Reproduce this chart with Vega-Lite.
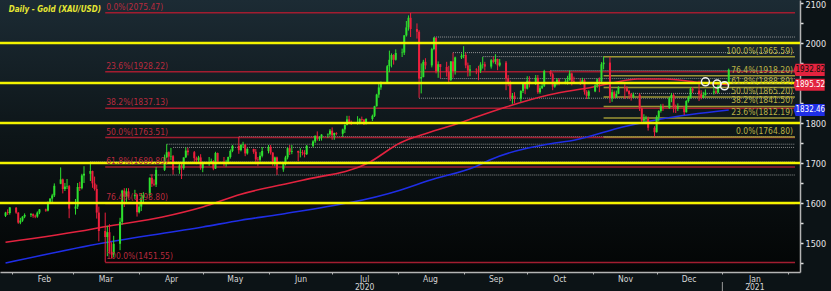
{
  "$schema": "https://vega.github.io/schema/vega-lite/v6.json",
  "width": 800,
  "height": 272,
  "autosize": {"type": "none"},
  "padding": {"left": 0, "top": 0, "right": 31, "bottom": 19},
  "background": "#0c1316",
  "resolve": {"axis": {"y": "independent"}},
  "config": {
    "view": {"stroke": null, "fill": {"gradient": "linear", "x1": 0, "y1": 0, "x2": 0, "y2": 1, "stops": [{"offset": 0, "color": "#1c2b34"}, {"offset": 0.5, "color": "#0d1518"}, {"offset": 1, "color": "#030505"}]}},
    "font": "Liberation Sans Narrow, DejaVu Sans Condensed, Liberation Sans, sans-serif"
  },
  "datasets": {
    "yl": [{"v": 1600}, {"v": 1700}, {"v": 1800}, {"v": 1900}, {"v": 2000}],
    "dots": [
      {"d": "2020-08-18", "v": 2015}, {"d": "2020-08-27", "v": 1976}, {"d": "2020-09-10", "v": 1966},
      {"d": "2020-10-12", "v": 1931}, {"d": "2020-08-21", "v": 1911}, {"d": "2020-11-18", "v": 1874},
      {"d": "2020-08-11", "v": 1862}, {"d": "2020-05-18", "v": 1766}, {"d": "2020-04-14", "v": 1747},
      {"d": "2020-04-17", "v": 1739}, {"d": "2020-03-09", "v": 1703}, {"d": "2020-04-06", "v": 1670}
    ],
    "fibL": [
      {"v": 2075.47, "t": "0.0%(2075.47)"}, {"v": 1928.22, "t": "23.6%(1928.22)"}, {"v": 1837.13, "t": "38.2%(1837.13)"},
      {"v": 1763.51, "t": "50.0%(1763.51)"}, {"v": 1689.89, "t": "61.8%(1689.89)"}, {"v": 1598.80, "t": "76.4%(1598.80)"},
      {"v": 1451.55, "t": "100.0%(1451.55)"}
    ],
    "fibR": [
      {"v": 1965.59, "t": "100.0%(1965.59)"}, {"v": 1918.20, "t": "76.4%(1918.20)"}, {"v": 1888.89, "t": "61.8%(1888.89)"},
      {"v": 1865.20, "t": "50.0%(1865.20)"}, {"v": 1841.50, "t": "38.2%(1841.50)"}, {"v": 1812.19, "t": "23.6%(1812.19)"},
      {"v": 1764.80, "t": "0.0%(1764.80)"}
    ],
    "ma": [
      {"d": "2020-01-29", "s": "ma100", "v": 1502}, {"d": "2020-03-10", "s": "ma100", "v": 1535}, {"d": "2020-03-15", "s": "ma100", "v": 1540},
      {"d": "2020-04-12", "s": "ma100", "v": 1565}, {"d": "2020-05-01", "s": "ma100", "v": 1590}, {"d": "2020-05-19", "s": "ma100", "v": 1622},
      {"d": "2020-06-17", "s": "ma100", "v": 1657}, {"d": "2020-07-18", "s": "ma100", "v": 1700}, {"d": "2020-08-02", "s": "ma100", "v": 1750},
      {"d": "2020-08-15", "s": "ma100", "v": 1775}, {"d": "2020-08-30", "s": "ma100", "v": 1800}, {"d": "2020-09-07", "s": "ma100", "v": 1815},
      {"d": "2020-09-21", "s": "ma100", "v": 1840}, {"d": "2020-10-11", "s": "ma100", "v": 1870}, {"d": "2020-11-01", "s": "ma100", "v": 1890},
      {"d": "2020-11-10", "s": "ma100", "v": 1900}, {"d": "2020-11-22", "s": "ma100", "v": 1910}, {"d": "2020-12-05", "s": "ma100", "v": 1910},
      {"d": "2020-12-20", "s": "ma100", "v": 1902}, {"d": "2021-01-04", "s": "ma100", "v": 1895.52},
      {"d": "2020-01-29", "s": "ma200", "v": 1450}, {"d": "2020-03-15", "s": "ma200", "v": 1500}, {"d": "2020-05-01", "s": "ma200", "v": 1540},
      {"d": "2020-05-19", "s": "ma200", "v": 1557}, {"d": "2020-06-07", "s": "ma200", "v": 1572}, {"d": "2020-08-02", "s": "ma200", "v": 1632},
      {"d": "2020-08-16", "s": "ma200", "v": 1657}, {"d": "2020-09-07", "s": "ma200", "v": 1692}, {"d": "2020-09-13", "s": "ma200", "v": 1707},
      {"d": "2020-10-14", "s": "ma200", "v": 1750}, {"d": "2020-10-23", "s": "ma200", "v": 1757}, {"d": "2020-11-15", "s": "ma200", "v": 1790},
      {"d": "2020-12-03", "s": "ma200", "v": 1810}, {"d": "2021-01-04", "s": "ma200", "v": 1832.46}
    ],
    "tags": [{"s": "price", "v": 1932.82}, {"s": "ma100", "v": 1895.52}, {"s": "ma200", "v": 1832.46}],
    "circ": [{"d": "2020-12-24", "v": 1903}, {"d": "2020-12-29T12:00:00Z", "v": 1897.5}, {"d": "2021-01-02", "v": 1893}],
    "title": [{"t": "Daily - Gold (XAU/USD)"}],
    "ohlc": [
      {"d":"2020-01-29","o":1568,"h":1578,"l":1565,"c":1576},{"d":"2020-01-30","o":1577,"h":1584,"l":1570,"c":1575},{"d":"2020-01-31","o":1575,"h":1590,"l":1571,"c":1589},
      {"d":"2020-02-03","o":1588,"h":1590,"l":1573,"c":1576},{"d":"2020-02-04","o":1576,"h":1577,"l":1548,"c":1551},{"d":"2020-02-05","o":1551,"h":1563,"l":1547,"c":1556},
      {"d":"2020-02-06","o":1556,"h":1567,"l":1553,"c":1566},{"d":"2020-02-07","o":1566,"h":1574,"l":1562,"c":1570},{"d":"2020-02-10","o":1570,"h":1575,"l":1565,"c":1572},
      {"d":"2020-02-11","o":1572,"h":1574,"l":1563,"c":1568},{"d":"2020-02-12","o":1568,"h":1571,"l":1562,"c":1566},{"d":"2020-02-13","o":1566,"h":1579,"l":1563,"c":1576},
      {"d":"2020-02-14","o":1576,"h":1585,"l":1572,"c":1584},{"d":"2020-02-17","o":1584,"h":1586,"l":1578,"c":1581},{"d":"2020-02-18","o":1581,"h":1604,"l":1579,"c":1601},
      {"d":"2020-02-19","o":1601,"h":1612,"l":1599,"c":1611},{"d":"2020-02-20","o":1611,"h":1623,"l":1599,"c":1619},{"d":"2020-02-21","o":1619,"h":1649,"l":1615,"c":1643},
      {"d":"2020-02-24","o":1648,"h":1689,"l":1647,"c":1659},{"d":"2020-02-25","o":1659,"h":1661,"l":1624,"c":1635},{"d":"2020-02-26","o":1635,"h":1650,"l":1630,"c":1641},
      {"d":"2020-02-27","o":1641,"h":1660,"l":1635,"c":1642},{"d":"2020-02-28","o":1642,"h":1645,"l":1562,"c":1586},{"d":"2020-03-02","o":1586,"h":1610,"l":1571,"c":1591},
      {"d":"2020-03-03","o":1591,"h":1650,"l":1585,"c":1640},{"d":"2020-03-04","o":1640,"h":1653,"l":1630,"c":1637},{"d":"2020-03-05","o":1637,"h":1673,"l":1634,"c":1669},
      {"d":"2020-03-06","o":1669,"h":1692,"l":1650,"c":1673},{"d":"2020-03-09","o":1673,"h":1703,"l":1655,"c":1680},{"d":"2020-03-10","o":1680,"h":1681,"l":1638,"c":1649},
      {"d":"2020-03-11","o":1649,"h":1666,"l":1631,"c":1635},{"d":"2020-03-12","o":1635,"h":1646,"l":1561,"c":1576},{"d":"2020-03-13","o":1576,"h":1591,"l":1504,"c":1530},
      {"d":"2020-03-16","o":1530,"h":1576,"l":1452,"c":1515},{"d":"2020-03-17","o":1515,"h":1543,"l":1467,"c":1527},{"d":"2020-03-18","o":1527,"h":1547,"l":1473,"c":1478},
      {"d":"2020-03-19","o":1478,"h":1502,"l":1461,"c":1471},{"d":"2020-03-20","o":1471,"h":1518,"l":1464,"c":1498},{"d":"2020-03-23","o":1498,"h":1563,"l":1482,"c":1553},
      {"d":"2020-03-24","o":1553,"h":1633,"l":1546,"c":1631},{"d":"2020-03-25","o":1631,"h":1637,"l":1590,"c":1616},{"d":"2020-03-26","o":1616,"h":1637,"l":1603,"c":1629},
      {"d":"2020-03-27","o":1629,"h":1637,"l":1611,"c":1617},{"d":"2020-03-30","o":1617,"h":1633,"l":1610,"c":1621},{"d":"2020-03-31","o":1621,"h":1623,"l":1566,"c":1577},
      {"d":"2020-04-01","o":1577,"h":1600,"l":1574,"c":1591},{"d":"2020-04-02","o":1591,"h":1625,"l":1580,"c":1613},{"d":"2020-04-03","o":1613,"h":1627,"l":1601,"c":1620},
      {"d":"2020-04-06","o":1620,"h":1664,"l":1613,"c":1663},{"d":"2020-04-07","o":1663,"h":1672,"l":1640,"c":1648},{"d":"2020-04-08","o":1648,"h":1659,"l":1642,"c":1646},
      {"d":"2020-04-09","o":1646,"h":1690,"l":1640,"c":1683},{"d":"2020-04-13","o":1683,"h":1721,"l":1680,"c":1714},{"d":"2020-04-14","o":1714,"h":1747,"l":1713,"c":1727},
      {"d":"2020-04-15","o":1727,"h":1729,"l":1699,"c":1716},{"d":"2020-04-16","o":1716,"h":1738,"l":1707,"c":1717},{"d":"2020-04-17","o":1717,"h":1720,"l":1671,"c":1683},
      {"d":"2020-04-20","o":1683,"h":1698,"l":1673,"c":1694},{"d":"2020-04-21","o":1694,"h":1700,"l":1660,"c":1687},{"d":"2020-04-22","o":1687,"h":1714,"l":1683,"c":1714},
      {"d":"2020-04-23","o":1714,"h":1739,"l":1713,"c":1731},{"d":"2020-04-24","o":1731,"h":1738,"l":1719,"c":1727},{"d":"2020-04-27","o":1727,"h":1730,"l":1702,"c":1712},
      {"d":"2020-04-28","o":1712,"h":1716,"l":1697,"c":1707},{"d":"2020-04-29","o":1707,"h":1718,"l":1701,"c":1714},{"d":"2020-04-30","o":1714,"h":1722,"l":1683,"c":1687},
      {"d":"2020-05-01","o":1687,"h":1703,"l":1677,"c":1701},{"d":"2020-05-04","o":1701,"h":1715,"l":1693,"c":1701},{"d":"2020-05-05","o":1701,"h":1711,"l":1698,"c":1705},
      {"d":"2020-05-06","o":1705,"h":1707,"l":1682,"c":1686},{"d":"2020-05-07","o":1686,"h":1728,"l":1685,"c":1725},{"d":"2020-05-08","o":1725,"h":1726,"l":1698,"c":1703},
      {"d":"2020-05-11","o":1703,"h":1715,"l":1692,"c":1697},{"d":"2020-05-12","o":1697,"h":1708,"l":1691,"c":1701},{"d":"2020-05-13","o":1701,"h":1716,"l":1697,"c":1715},
      {"d":"2020-05-14","o":1715,"h":1734,"l":1711,"c":1730},{"d":"2020-05-15","o":1730,"h":1745,"l":1727,"c":1743},{"d":"2020-05-18","o":1743,"h":1765,"l":1723,"c":1732},
      {"d":"2020-05-19","o":1732,"h":1747,"l":1729,"c":1745},{"d":"2020-05-20","o":1745,"h":1753,"l":1738,"c":1746},{"d":"2020-05-21","o":1746,"h":1747,"l":1717,"c":1724},
      {"d":"2020-05-22","o":1724,"h":1738,"l":1721,"c":1735},{"d":"2020-05-25","o":1735,"h":1736,"l":1723,"c":1728},{"d":"2020-05-26","o":1728,"h":1735,"l":1697,"c":1709},
      {"d":"2020-05-27","o":1709,"h":1715,"l":1693,"c":1708},{"d":"2020-05-28","o":1708,"h":1727,"l":1703,"c":1718},{"d":"2020-05-29","o":1718,"h":1740,"l":1714,"c":1730},
      {"d":"2020-06-01","o":1730,"h":1745,"l":1724,"c":1740},{"d":"2020-06-02","o":1740,"h":1745,"l":1721,"c":1726},{"d":"2020-06-03","o":1726,"h":1727,"l":1693,"c":1699},
      {"d":"2020-06-04","o":1699,"h":1716,"l":1692,"c":1714},{"d":"2020-06-05","o":1714,"h":1716,"l":1670,"c":1684},{"d":"2020-06-08","o":1684,"h":1699,"l":1678,"c":1698},
      {"d":"2020-06-09","o":1698,"h":1718,"l":1694,"c":1714},{"d":"2020-06-10","o":1714,"h":1739,"l":1709,"c":1737},{"d":"2020-06-11","o":1737,"h":1745,"l":1720,"c":1728},
      {"d":"2020-06-12","o":1728,"h":1745,"l":1722,"c":1730},{"d":"2020-06-15","o":1730,"h":1731,"l":1705,"c":1726},{"d":"2020-06-16","o":1726,"h":1737,"l":1714,"c":1727},
      {"d":"2020-06-17","o":1727,"h":1733,"l":1719,"c":1725},{"d":"2020-06-18","o":1725,"h":1732,"l":1714,"c":1722},{"d":"2020-06-19","o":1722,"h":1745,"l":1720,"c":1743},
      {"d":"2020-06-22","o":1743,"h":1757,"l":1739,"c":1754},{"d":"2020-06-23","o":1754,"h":1769,"l":1750,"c":1768},{"d":"2020-06-24","o":1768,"h":1779,"l":1756,"c":1761},
      {"d":"2020-06-25","o":1761,"h":1767,"l":1755,"c":1764},{"d":"2020-06-26","o":1764,"h":1772,"l":1756,"c":1771},{"d":"2020-06-29","o":1771,"h":1774,"l":1763,"c":1772},
      {"d":"2020-06-30","o":1772,"h":1785,"l":1768,"c":1781},{"d":"2020-07-01","o":1781,"h":1789,"l":1758,"c":1769},{"d":"2020-07-02","o":1769,"h":1776,"l":1758,"c":1775},
      {"d":"2020-07-03","o":1775,"h":1777,"l":1769,"c":1773},{"d":"2020-07-06","o":1773,"h":1786,"l":1765,"c":1784},{"d":"2020-07-07","o":1784,"h":1797,"l":1775,"c":1795},
      {"d":"2020-07-08","o":1795,"h":1818,"l":1794,"c":1809},{"d":"2020-07-09","o":1809,"h":1818,"l":1797,"c":1803},{"d":"2020-07-10","o":1803,"h":1806,"l":1795,"c":1798},
      {"d":"2020-07-13","o":1798,"h":1817,"l":1796,"c":1802},{"d":"2020-07-14","o":1802,"h":1812,"l":1797,"c":1810},{"d":"2020-07-15","o":1810,"h":1816,"l":1803,"c":1808},
      {"d":"2020-07-16","o":1808,"h":1810,"l":1795,"c":1797},{"d":"2020-07-17","o":1797,"h":1812,"l":1797,"c":1810},{"d":"2020-07-20","o":1810,"h":1821,"l":1805,"c":1818},
      {"d":"2020-07-21","o":1818,"h":1843,"l":1815,"c":1842},{"d":"2020-07-22","o":1842,"h":1873,"l":1841,"c":1871},{"d":"2020-07-23","o":1871,"h":1898,"l":1863,"c":1889},
      {"d":"2020-07-24","o":1889,"h":1904,"l":1883,"c":1902},{"d":"2020-07-27","o":1902,"h":1945,"l":1900,"c":1942},{"d":"2020-07-28","o":1942,"h":1981,"l":1927,"c":1958},
      {"d":"2020-07-29","o":1958,"h":1974,"l":1939,"c":1970},{"d":"2020-07-30","o":1970,"h":1972,"l":1946,"c":1958},{"d":"2020-07-31","o":1958,"h":1984,"l":1956,"c":1975},
      {"d":"2020-08-03","o":1975,"h":1986,"l":1965,"c":1976},{"d":"2020-08-04","o":1976,"h":2020,"l":1970,"c":2019},{"d":"2020-08-05","o":2019,"h":2055,"l":2016,"c":2039},
      {"d":"2020-08-06","o":2039,"h":2069,"l":2031,"c":2063},{"d":"2020-08-07","o":2063,"h":2075,"l":2015,"c":2035},{"d":"2020-08-10","o":2035,"h":2049,"l":2011,"c":2028},
      {"d":"2020-08-11","o":2028,"h":2032,"l":1863,"c":1911},{"d":"2020-08-12","o":1911,"h":1949,"l":1874,"c":1915},{"d":"2020-08-13","o":1915,"h":1958,"l":1914,"c":1953},
      {"d":"2020-08-14","o":1953,"h":1962,"l":1934,"c":1944},{"d":"2020-08-17","o":1944,"h":1988,"l":1939,"c":1985},{"d":"2020-08-18","o":1985,"h":2015,"l":1982,"c":2013},
      {"d":"2020-08-19","o":2013,"h":2014,"l":1924,"c":1929},{"d":"2020-08-20","o":1929,"h":1954,"l":1913,"c":1947},{"d":"2020-08-21","o":1947,"h":1947,"l":1912,"c":1940},
      {"d":"2020-08-24","o":1940,"h":1953,"l":1916,"c":1928},{"d":"2020-08-25","o":1928,"h":1943,"l":1902,"c":1908},{"d":"2020-08-26","o":1908,"h":1955,"l":1905,"c":1954},
      {"d":"2020-08-27","o":1954,"h":1976,"l":1913,"c":1930},{"d":"2020-08-28","o":1930,"h":1966,"l":1921,"c":1964},{"d":"2020-08-31","o":1964,"h":1974,"l":1960,"c":1968},
      {"d":"2020-09-01","o":1968,"h":1992,"l":1962,"c":1970},{"d":"2020-09-02","o":1970,"h":1976,"l":1937,"c":1944},{"d":"2020-09-03","o":1944,"h":1951,"l":1916,"c":1931},
      {"d":"2020-09-04","o":1931,"h":1945,"l":1917,"c":1934},{"d":"2020-09-07","o":1934,"h":1937,"l":1922,"c":1933},{"d":"2020-09-08","o":1933,"h":1943,"l":1907,"c":1931},
      {"d":"2020-09-09","o":1931,"h":1952,"l":1925,"c":1946},{"d":"2020-09-10","o":1946,"h":1965,"l":1936,"c":1947},{"d":"2020-09-11","o":1947,"h":1953,"l":1931,"c":1941},
      {"d":"2020-09-14","o":1941,"h":1960,"l":1936,"c":1957},{"d":"2020-09-15","o":1957,"h":1966,"l":1949,"c":1953},{"d":"2020-09-16","o":1953,"h":1972,"l":1947,"c":1960},
      {"d":"2020-09-17","o":1960,"h":1961,"l":1932,"c":1944},{"d":"2020-09-18","o":1944,"h":1960,"l":1941,"c":1951},{"d":"2020-09-21","o":1951,"h":1955,"l":1882,"c":1912},
      {"d":"2020-09-22","o":1912,"h":1920,"l":1892,"c":1901},{"d":"2020-09-23","o":1901,"h":1906,"l":1855,"c":1863},{"d":"2020-09-24","o":1863,"h":1875,"l":1848,"c":1868},
      {"d":"2020-09-25","o":1868,"h":1877,"l":1849,"c":1861},{"d":"2020-09-28","o":1861,"h":1882,"l":1853,"c":1880},{"d":"2020-09-29","o":1880,"h":1899,"l":1875,"c":1898},
      {"d":"2020-09-30","o":1898,"h":1901,"l":1872,"c":1886},{"d":"2020-10-01","o":1886,"h":1917,"l":1884,"c":1906},{"d":"2020-10-02","o":1906,"h":1917,"l":1889,"c":1900},
      {"d":"2020-10-05","o":1900,"h":1920,"l":1895,"c":1913},{"d":"2020-10-06","o":1913,"h":1920,"l":1873,"c":1877},{"d":"2020-10-07","o":1877,"h":1894,"l":1873,"c":1887},
      {"d":"2020-10-08","o":1887,"h":1898,"l":1885,"c":1893},{"d":"2020-10-09","o":1893,"h":1933,"l":1890,"c":1930},{"d":"2020-10-12","o":1930,"h":1932,"l":1916,"c":1922},
      {"d":"2020-10-13","o":1922,"h":1926,"l":1882,"c":1891},{"d":"2020-10-14","o":1891,"h":1904,"l":1888,"c":1901},{"d":"2020-10-15","o":1901,"h":1912,"l":1894,"c":1908},
      {"d":"2020-10-16","o":1908,"h":1912,"l":1894,"c":1900},{"d":"2020-10-19","o":1900,"h":1911,"l":1897,"c":1904},{"d":"2020-10-20","o":1904,"h":1918,"l":1896,"c":1907},
      {"d":"2020-10-21","o":1907,"h":1931,"l":1906,"c":1924},{"d":"2020-10-22","o":1924,"h":1926,"l":1894,"c":1904},{"d":"2020-10-23","o":1904,"h":1916,"l":1898,"c":1902},
      {"d":"2020-10-26","o":1902,"h":1911,"l":1895,"c":1900},{"d":"2020-10-27","o":1900,"h":1913,"l":1899,"c":1907},{"d":"2020-10-28","o":1907,"h":1910,"l":1871,"c":1878},
      {"d":"2020-10-29","o":1878,"h":1882,"l":1860,"c":1868},{"d":"2020-10-30","o":1868,"h":1882,"l":1860,"c":1879},{"d":"2020-11-02","o":1879,"h":1897,"l":1877,"c":1894},
      {"d":"2020-11-03","o":1894,"h":1911,"l":1888,"c":1909},{"d":"2020-11-04","o":1909,"h":1914,"l":1877,"c":1904},{"d":"2020-11-05","o":1904,"h":1952,"l":1902,"c":1947},
      {"d":"2020-11-06","o":1947,"h":1966,"l":1934,"c":1951},{"d":"2020-11-09","o":1951,"h":1965,"l":1850,"c":1862},{"d":"2020-11-10","o":1862,"h":1884,"l":1853,"c":1877},
      {"d":"2020-11-11","o":1877,"h":1881,"l":1861,"c":1866},{"d":"2020-11-12","o":1866,"h":1881,"l":1862,"c":1873},{"d":"2020-11-13","o":1873,"h":1892,"l":1872,"c":1889},
      {"d":"2020-11-16","o":1889,"h":1897,"l":1860,"c":1887},{"d":"2020-11-17","o":1887,"h":1892,"l":1877,"c":1880},{"d":"2020-11-18","o":1880,"h":1883,"l":1860,"c":1872},
      {"d":"2020-11-19","o":1872,"h":1875,"l":1856,"c":1866},{"d":"2020-11-20","o":1866,"h":1876,"l":1862,"c":1871},{"d":"2020-11-23","o":1871,"h":1875,"l":1830,"c":1837},
      {"d":"2020-11-24","o":1837,"h":1839,"l":1800,"c":1806},{"d":"2020-11-25","o":1806,"h":1822,"l":1800,"c":1810},{"d":"2020-11-26","o":1810,"h":1818,"l":1803,"c":1811},
      {"d":"2020-11-27","o":1811,"h":1816,"l":1781,"c":1788},{"d":"2020-11-30","o":1788,"h":1792,"l":1765,"c":1777},{"d":"2020-12-01","o":1777,"h":1819,"l":1776,"c":1815},
      {"d":"2020-12-02","o":1815,"h":1832,"l":1804,"c":1830},{"d":"2020-12-03","o":1830,"h":1847,"l":1826,"c":1841},{"d":"2020-12-04","o":1841,"h":1848,"l":1830,"c":1838},
      {"d":"2020-12-07","o":1838,"h":1865,"l":1835,"c":1862},{"d":"2020-12-08","o":1862,"h":1875,"l":1852,"c":1870},{"d":"2020-12-09","o":1870,"h":1874,"l":1826,"c":1839},
      {"d":"2020-12-10","o":1839,"h":1846,"l":1825,"c":1836},{"d":"2020-12-11","o":1836,"h":1849,"l":1830,"c":1839},{"d":"2020-12-14","o":1839,"h":1843,"l":1820,"c":1827},
      {"d":"2020-12-15","o":1827,"h":1857,"l":1826,"c":1855},{"d":"2020-12-16","o":1855,"h":1868,"l":1851,"c":1864},{"d":"2020-12-17","o":1864,"h":1890,"l":1861,"c":1886},
      {"d":"2020-12-18","o":1886,"h":1890,"l":1875,"c":1881},{"d":"2020-12-21","o":1881,"h":1906,"l":1855,"c":1872},{"d":"2020-12-22","o":1872,"h":1882,"l":1859,"c":1863},
      {"d":"2020-12-23","o":1863,"h":1878,"l":1862,"c":1870},{"d":"2020-12-24","o":1870,"h":1884,"l":1868,"c":1876},{"d":"2020-12-28","o":1876,"h":1890,"l":1871,"c":1879},
      {"d":"2020-12-29","o":1879,"h":1886,"l":1873,"c":1876},{"d":"2020-12-30","o":1876,"h":1896,"l":1874,"c":1893},{"d":"2020-12-31","o":1893,"h":1906,"l":1888,"c":1895},
      {"d":"2021-01-04","o":1895,"h":1936,"l":1893,"c":1933}
    ]
  },
  "layer": [
    {
      "data": {"name": "dots"},
      "mark": {"type": "rule", "color": "#a4a4a4", "strokeWidth": 1, "strokeDash": [1, 1], "opacity": 0.85},
      "encoding": {
        "x": {"field": "d", "type": "temporal", "axis": {"title": null}, "scale": {"domain": [{"year": 2020, "month": 1, "date": 28, "hours": 18}, {"year": 2021, "month": 2, "date": 4, "hours": 6}]}},
        "x2": {"datum": {"year": 2021, "month": 2, "date": 4, "hours": 6}},
        "y": {"field": "v", "type": "quantitative", "axis": null, "scale": {"domain": [1427.5, 2107.5], "nice": false, "zero": false}}
      }
    },
    {
      "data": {"name": "fibL"},
      "mark": {"type": "rule", "color": "#a21d30", "strokeWidth": 1.5},
      "encoding": {
        "x": {"datum": {"year": 2020, "month": 3, "date": 16}, "type": "temporal", "axis": {"title": null}},
        "x2": {"datum": {"year": 2021, "month": 2, "date": 4, "hours": 6}},
        "y": {"field": "v", "type": "quantitative", "axis": null}
      }
    },
    {
      "data": {"name": "fibR"},
      "mark": {"type": "rule", "color": "#9c9634", "strokeWidth": 1.5},
      "encoding": {
        "x": {"datum": {"year": 2020, "month": 11, "date": 6}, "type": "temporal", "axis": {"title": null}},
        "x2": {"datum": {"year": 2021, "month": 2, "date": 4, "hours": 6}},
        "y": {"field": "v", "type": "quantitative", "axis": null}
      }
    },
    {
      "data": {"name": "ma"},
      "mark": {"type": "line", "strokeWidth": 1.6, "interpolate": "monotone"},
      "encoding": {
        "x": {"field": "d", "type": "temporal", "axis": {"title": null}},
        "y": {"field": "v", "type": "quantitative", "axis": null},
        "color": {"field": "s", "type": "nominal", "legend": null, "scale": {"domain": ["ma100", "ma200"], "range": ["#e3233f", "#1f2ee6"]}}
      }
    },
    {
      "data": {"name": "ohlc"},
      "mark": {"type": "rule", "strokeWidth": 1},
      "encoding": {
        "x": {"field": "d", "type": "temporal",
          "scale": {"domain": [{"year": 2020, "month": 1, "date": 28, "hours": 18}, {"year": 2021, "month": 2, "date": 4, "hours": 6}]},
          "axis": {
            "title": null, "grid": false, "format": "%b",
            "values": [
              {"year": 2020, "month": 2, "date": 1}, {"year": 2020, "month": 3, "date": 1}, {"year": 2020, "month": 4, "date": 1},
              {"year": 2020, "month": 5, "date": 1}, {"year": 2020, "month": 6, "date": 1}, {"year": 2020, "month": 7, "date": 1},
              {"year": 2020, "month": 8, "date": 1}, {"year": 2020, "month": 9, "date": 1}, {"year": 2020, "month": 10, "date": 1},
              {"year": 2020, "month": 11, "date": 1}, {"year": 2020, "month": 12, "date": 1}, {"year": 2021, "month": 1, "date": 1},
              {"year": 2021, "month": 2, "date": 1}
            ],
            "labelExpr": "year(datum.value) == 2021 && month(datum.value) == 1 ? '' : month(datum.value) == 6 ? ['Jul', '2020'] : (year(datum.value) == 2021 && month(datum.value) == 0) ? ['Jan', '2021'] : timeFormat(datum.value, '%b')",
            "labelOffset": 32, "labelFlush": false, "labelOverlap": false,
            "labelColor": "#d6d6d6", "labelFontSize": 8.5, "labelPadding": 0, "labelBaseline": "top", "labelLineHeight": 8.5,
            "tickSize": 2, "tickColor": "#b4b4b4", "domainColor": "#b4b4b4", "domainWidth": 1.5
          }
        },
        "y": {"field": "l", "type": "quantitative",
          "scale": {"domain": [1427.5, 2107.5], "nice": false, "zero": false},
          "axis": {
            "title": null, "grid": false, "orient": "right",
            "values": [1450, 1500, 1550, 1600, 1650, 1700, 1750, 1800, 1850, 1900, 1950, 2000, 2050, 2100],
            "labelExpr": "datum.value % 100 == 0 && datum.value != 1900 ? format(datum.value, 'd') : ''",
            "labelOffset": {"condition": {"test": "datum.value == 2100", "value": 1.5}, "value": 0},
            "labelColor": "#e6e6e6", "labelFontSize": 9, "labelPadding": 2, "labelFlush": false, "labelOverlap": false,
            "tickSize": 3, "tickWidth": 1.5, "tickColor": "#e0e0e0", "domainColor": "#b4b4b4", "domainWidth": 1.5
          }
        },
        "y2": {"field": "h"},
        "color": {"condition": {"test": "datum.c >= datum.o", "value": "#2ee02e"}, "value": "#ee1f3d"}
      }
    },
    {
      "data": {"name": "ohlc"},
      "mark": {"type": "bar", "size": 2},
      "encoding": {
        "x": {"field": "d", "type": "temporal", "axis": {"title": null}},
        "y": {"field": "o", "type": "quantitative", "axis": null},
        "y2": {"field": "c"},
        "color": {"condition": {"test": "datum.c >= datum.o", "value": "#2ee02e"}, "value": "#ee1f3d"}
      }
    },
    {
      "data": {"name": "yl"},
      "mark": {"type": "rule", "color": "#f4f400", "strokeWidth": 2.5},
      "encoding": {
        "y": {"field": "v", "type": "quantitative", "axis": null}
      }
    },
    {
      "data": {"name": "fibL"},
      "mark": {"type": "text", "align": "left", "baseline": "alphabetic", "dx": 1, "dy": -3, "fontSize": 8.5, "color": "#b82a3e"},
      "encoding": {
        "x": {"datum": {"year": 2020, "month": 3, "date": 16}, "type": "temporal", "axis": {"title": null}},
        "y": {"field": "v", "type": "quantitative", "axis": null},
        "text": {"field": "t"}
      }
    },
    {
      "data": {"name": "fibR"},
      "mark": {"type": "text", "align": "right", "baseline": "alphabetic", "dx": -2, "dy": -3, "fontSize": 8.5, "color": "#bab244"},
      "encoding": {
        "x": {"datum": {"year": 2021, "month": 2, "date": 4, "hours": 6}, "type": "temporal", "axis": {"title": null}},
        "y": {"field": "v", "type": "quantitative", "axis": null},
        "text": {"field": "t"}
      }
    },
    {
      "data": {"name": "title"},
      "mark": {"type": "text", "align": "left", "baseline": "middle", "fontSize": 8, "fontStyle": "italic", "fontWeight": "bold", "color": "#e6e632"},
      "encoding": {
        "x": {"datum": {"year": 2020, "month": 1, "date": 30, "hours": 12}, "type": "temporal", "axis": {"title": null}},
        "y": {"datum": 2082.5, "type": "quantitative", "axis": null},
        "text": {"field": "t"}
      }
    },
    {
      "data": {"name": "circ"},
      "mark": {"type": "point", "shape": "circle", "size": 64, "stroke": "#f0f0f0", "strokeWidth": 1.5, "filled": false, "opacity": 1},
      "encoding": {
        "x": {"field": "d", "type": "temporal", "axis": {"title": null}},
        "y": {"field": "v", "type": "quantitative", "axis": null}
      }
    },
    {
      "data": {"values": [{"a": 1}]},
      "mark": {"type": "rule", "color": "#9a9a9a", "strokeWidth": 1},
      "encoding": {
        "x": {"datum": {"year": 2021, "month": 1, "date": 1}, "type": "temporal", "axis": {"title": null}},
        "y": {"datum": 1402.5, "type": "quantitative", "axis": null},
        "y2": {"datum": 1380}
      }
    },
    {
      "data": {"name": "tags"},
      "mark": {"type": "point", "shape": "M-1.12,0 L-0.98,-0.43 L1.1,-0.43 L1.1,0.43 L-0.98,0.43 Z", "size": 784, "filled": true, "opacity": 1, "strokeWidth": 0},
      "encoding": {
        "x": {"datum": {"year": 2021, "month": 2, "date": 11, "hours": 0}, "type": "temporal", "axis": {"title": null}},
        "y": {"field": "v", "type": "quantitative", "axis": null},
        "color": {"field": "s", "type": "nominal", "legend": null, "scale": {"domain": ["price", "ma100", "ma200"], "range": ["#33dd33", "#e8304c", "#2244ee"]}}
      }
    },
    {
      "data": {"name": "tags"},
      "mark": {"type": "text", "align": "center", "baseline": "middle", "fontSize": 8, "dx": 1},
      "encoding": {
        "x": {"datum": {"year": 2021, "month": 2, "date": 11, "hours": 0}, "type": "temporal", "axis": {"title": null}},
        "y": {"field": "v", "type": "quantitative", "axis": null},
        "text": {"field": "v", "type": "quantitative", "format": ".2f"},
        "color": {"condition": {"test": "datum.s == 'price'", "value": "#081008"}, "value": "#ffffff"}
      }
    }
  ]
}
